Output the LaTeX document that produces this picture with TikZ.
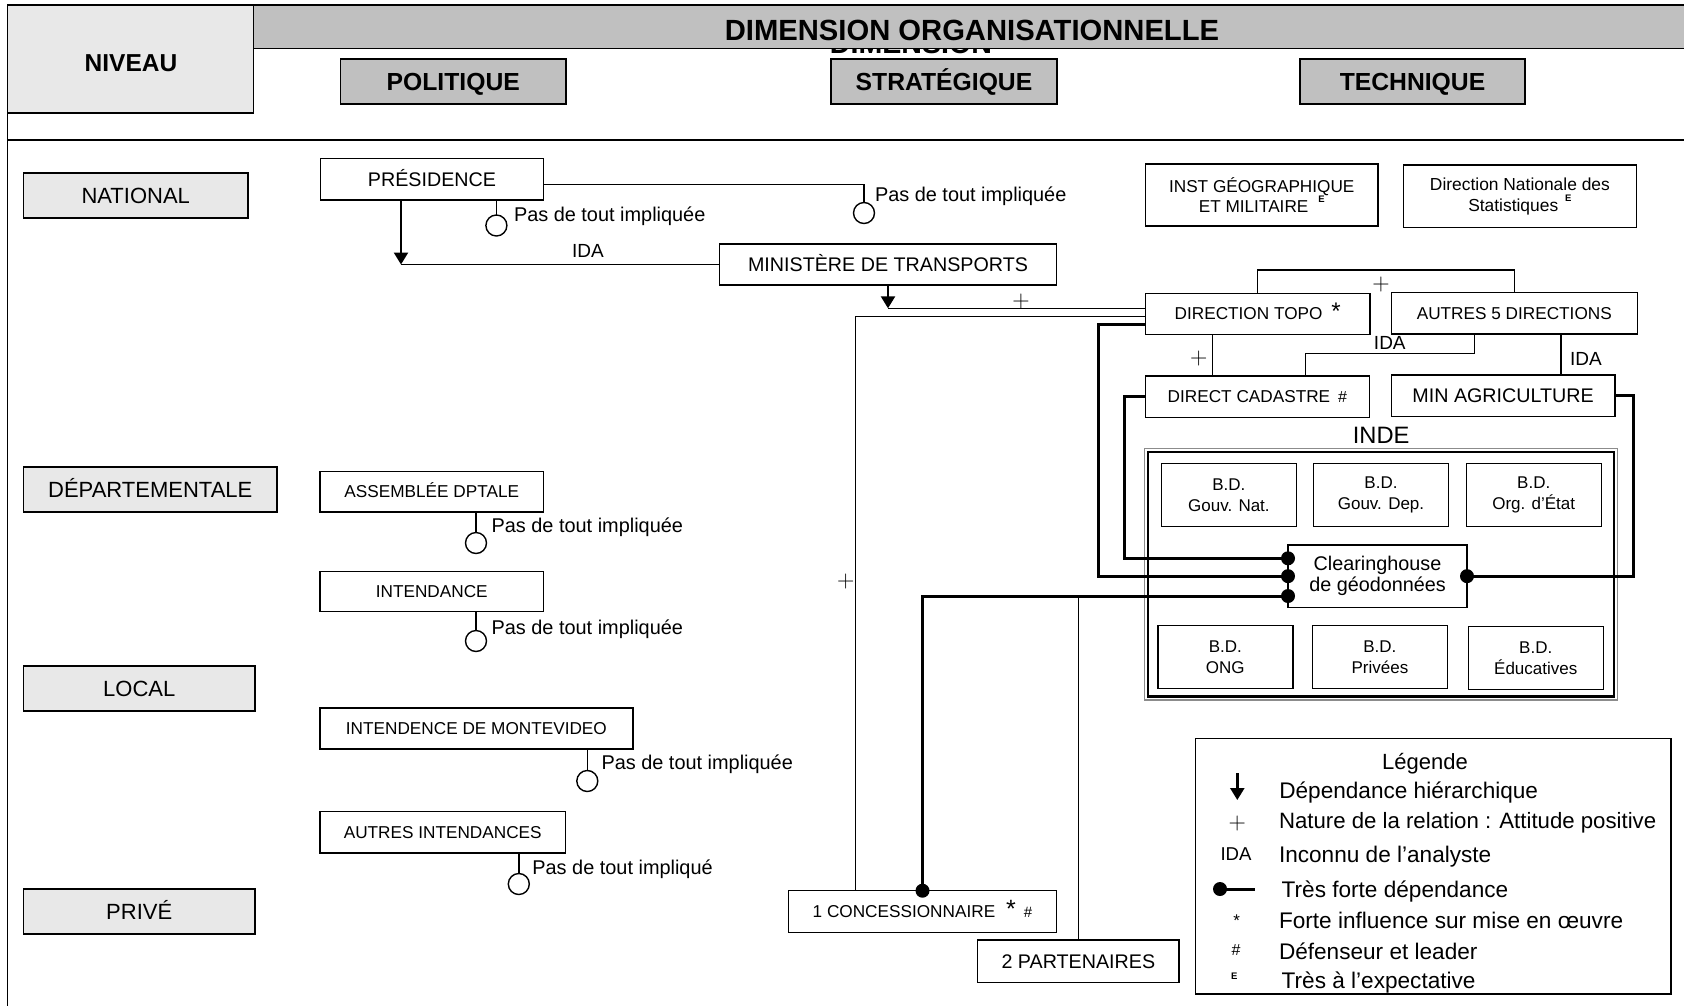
\documentclass[tikz,border=0pt]{standalone}
\usepackage{fontspec}
\setmainfont{Liberation Sans}
\newfontfamily\lmr{Latin Modern Roman}
\usetikzlibrary{arrows.meta,calc}
\definecolor{hgray}{HTML}{C0C0C0}
\definecolor{lgray}{HTML}{E8E8E8}
\definecolor{fgray}{HTML}{8C8C8C}
\newcommand\fsz[2]{\fontsize{#1}{#2}\selectfont}
\newcommand\expE{\raisebox{10pt}{\bfseries\fsz{9.5}{10}E}}

\begin{document}
\begin{tikzpicture}[x=1pt,y=-1pt,
  every node/.style={inner sep=0pt, outer sep=0pt},
  rule/.style={line width=1.6pt},
  hdbox/.style={draw, line width=1.6pt, fill=hgray, font={\bfseries\fsz{24.7}{28}}, text height=17.7pt, text depth=0pt},
  lvbox/.style={draw, line width=1.6pt, fill=lgray, font={\fsz{22}{26}}, text height=15.8pt, text depth=0pt},
  bx/.style={draw, line width=1.4pt, fill=white, align=center},
  t20/.style={font={\fsz{19.7}{23}}, text height=14.1pt, text depth=0pt},
  t17/.style={font={\fsz{17.2}{20.5}}, text height=12.3pt, text depth=0pt},
  pas/.style={anchor=west, font={\fsz{19.9}{23}}, text height=14.2pt, text depth=0pt},
  ida/.style={font={\fsz{19}{22}}, text height=13.6pt, text depth=0pt},
  leg/.style={anchor=west, font={\fsz{22.6}{26}}, text height=16.2pt, text depth=0pt},
  plus/.style={font={\lmr\fsz{24}{24}}},
  ring/.style={circle, draw, line width=1.4pt, minimum size=21pt},
  dot/.style={circle, fill=black, minimum size=14pt},
  link/.style={line width=1.4pt},
  strong/.style={line width=3pt},
  harrow/.style={line width=2.4pt, -{Triangle[length=12pt,width=14pt]}},
  bd/.style={bx, font={\fsz{17}{21}}, minimum width=135pt, minimum height=63pt}
]
\useasboundingbox (0,0) rectangle (1684,1005);

% ---------- outer frame and heading ----------
\draw[rule] (7.5,5) -- (7.5,1012);
\draw[rule] (7.5,140) -- (1690,140);

\node[anchor=base, font={\bfseries\fsz{28.6}{32}}] (ghost) at (911,53.5) {DIMENSION};
\node[draw, line width=1.6pt, fill=hgray, minimum width=1436.5pt, minimum height=43.5pt] (dim) at (971.75,26.75) {};
\node[font={\bfseries\fsz{29.2}{32}}, text height=20.9pt, text depth=0pt] (dimt) at (972,30) {DIMENSION ORGANISATIONNELLE};

\node[draw, line width=1.6pt, fill=lgray, minimum width=246pt, minimum height=107.7pt] (niv) at (130.5,58.85) {};
\node[font={\bfseries\fsz{24.5}{28}}, text height=17.5pt, text depth=0pt] (nivt) at (131,63) {NIVEAU};

\node[hdbox, minimum width=225.5pt, minimum height=45pt] (pol) at (453.25,81.5) {POLITIQUE};
\node[hdbox, minimum width=225.5pt, minimum height=45pt] (str) at (944,81.5) {STRATÉGIQUE};
\node[hdbox, minimum width=225.5pt, minimum height=45pt] (tec) at (1412.5,81.5) {TECHNIQUE};

% ---------- levels ----------
\node[lvbox, minimum width=224.5pt, minimum height=45pt] (nat) at (135.75,195.5) {NATIONAL};
\node[lvbox, minimum width=253.5pt, minimum height=45pt] (dep) at (150.25,489.5) {DÉPARTEMENTALE};
\node[lvbox, minimum width=231.5pt, minimum height=45pt] (loc) at (139.25,688.5) {LOCAL};
\node[lvbox, minimum width=231.5pt, minimum height=45pt] (pri) at (139.25,911.5) {PRIVÉ};

% ---------- political actors ----------
\node[bx, t20, minimum width=223pt, minimum height=41.7pt] (pres) at (432,179.2) {PRÉSIDENCE};
\node[bx, t20, minimum width=337pt, minimum height=41pt] (mint) at (888,264.5) {MINISTÈRE DE TRANSPORTS};
\node[bx, t17, minimum width=223.5pt, minimum height=40.5pt] (asm) at (431.75,491.75) {ASSEMBLÉE DPTALE};
\node[bx, t17, minimum width=223.5pt, minimum height=40.5pt] (intd) at (431.75,591.5) {INTENDANCE};
\node[bx, t17, minimum width=312.8pt, minimum height=41.2pt] (mvd) at (476.4,728.4) {INTENDENCE DE MONTEVIDEO};
\node[bx, t17, minimum width=245.5pt, minimum height=41.5pt] (aint) at (442.75,832.25) {AUTRES INTENDANCES};

% ---------- technical actors ----------
\node[bx, font={\fsz{17.2}{20.5}}, minimum width=232.5pt, minimum height=62pt] (igm) at (1261.75,195) {INST GÉOGRAPHIQUE\\ET MILITAIRE\hspace{10pt}\expE};
\node[bx, font={\fsz{17.4}{21}}, minimum width=232.8pt, minimum height=62.3pt] (dns) at (1519.9,196.2) {Direction Nationale des\\Statistiques\hspace{7pt}\expE};
\node[bx, t17, minimum width=224.5pt, minimum height=41pt] (dtopo) at (1257.75,313.8) {DIRECTION TOPO\hspace{9pt}{\fsz{24}{24}*}};
\node[bx, t17, minimum width=246.2pt, minimum height=41.3pt] (aut5) at (1514.3,313.35) {AUTRES 5 DIRECTIONS};
\node[bx, t17, minimum width=223.8pt, minimum height=41.3pt] (dcad) at (1257.4,396.65) {DIRECT CADASTRE\hspace{8pt}{\fsz{16}{16}\#}};
\node[bx, t20, minimum width=223.8pt, minimum height=41.7pt] (magri) at (1503.1,395.85) {MIN AGRICULTURE};

% ---------- INDE frame and its databases ----------
\node[draw=fgray, line width=1.3pt, minimum width=473pt, minimum height=251.7pt] (inde) at (1381.2,574.15) {};
\draw[line width=2.4pt] ($(inde.north west)+(3.5,3.5)$) rectangle ($(inde.south east)+(-3.5,-3.5)$);
\node[font={\fsz{23.7}{26}}, text height=17pt, text depth=0pt] (indet) at (1381.2,435) {INDE};

\node[bd] (bd1) at (1228.9,495) {B.D.\\Gouv. Nat.};
\node[bd] (bd2) at (1381,495) {B.D.\\Gouv. Dep.};
\node[bd] (bd3) at (1533.7,495) {B.D.\\Org. d’État};
\node[bd] (bd4) at (1225.3,657) {B.D.\\ONG};
\node[bd] (bd5) at (1379.9,657) {B.D.\\Privées};
\node[bd] (bd6) at (1535.75,658) {B.D.\\Éducatives};

% ---------- private actors ----------
\node[bx, t17, minimum width=268.4pt, minimum height=41.6pt] (conc) at (922.5,911.5) {1 CONCESSIONNAIRE\hspace{11pt}{\fsz{25}{25}*}\hspace{8pt}{\fsz{15}{15}\#}};
\node[bx, t20, minimum width=201.3pt, minimum height=42.3pt] (part) at (1078.35,961.15) {2 PARTENAIRES};

% ---------- hierarchical links ----------
\coordinate (pa) at ($(pres.south)+(-31,0)$);
\draw[harrow] (pa) -- (pa |- mint.west);
\draw[link] (mint.west) -- (pa |- mint.west);
\node[ida] (ida1) at (588,251) {IDA};

\coordinate (ta) at ([yshift=5.5pt]dtopo.west);
\draw[harrow] (mint.south) -- (mint.south |- ta);
\draw[link] (ta) -- (mint.south |- ta);
\node[plus] (p1) at (1021,301.7) {+};

\coordinate (tb) at ([yshift=-2.9pt]dtopo.west);
\coordinate (cb) at ($(conc.north west)+(67.4,0)$);
\draw[link] (tb) -| (cb);
\node[plus] (p2) at (845.7,581) {+};

% ---------- technical links ----------
\draw[link] (dtopo.north) -- ++(0,-23.3) -| (aut5.north);
\node[plus] (p3) at (1381,284.3) {+};
\draw[link] ([xshift=-45pt]dtopo.south) -- ([xshift=-45pt]dtopo.south |- dcad.north);
\node[plus] (p4) at (1198.7,359) {+};
\draw[link] ([xshift=-40pt]aut5.south) -- ++(0,19.3) -| ([xshift=48.2pt]dcad.north);
\node[ida] (ida2) at (1389.8,342.7) {IDA};
\draw[link] ([xshift=46.7pt]aut5.south) -- ([xshift=46.7pt]aut5.south |- magri.north);
\node[ida] (ida3) at (1586,358.3) {IDA};

% ---------- very strong dependencies on the Clearinghouse ----------
\node[bx, font={\fsz{19.8}{21}}, minimum width=179pt, minimum height=62.3pt] (clr) at (1377.5,576.15) {Clearinghouse\\de géodonnées};
\coordinate (cwa) at ([yshift=17.85pt]clr.west);
\coordinate (cwc) at ([yshift=-19.85pt]clr.west);
\draw[strong] ([yshift=-10.2pt]dtopo.west) -- ++(-46.8,0) |- (clr.west);
\draw[strong] (dcad.west) -- ++(-21.3,0) |- (cwa);
\draw[strong] (cwc) -| (conc.north);
\draw[strong] (magri.east) -- ++(18.3,0) |- (clr.east);
\draw[link] (part.north) -- (part.north |- cwc);
\node[dot] (d1) at (cwa) {};
\node[dot] (d2) at (clr.west) {};
\node[dot] (d3) at (cwc) {};
\node[dot] (d4) at (clr.east) {};
\node[dot] (d5) at (conc.north) {};

% ---------- "not involved" markers ----------
\node[ring] (r1) at (496.4,225.5) {};
\draw[link] (pres.south -| r1) -- (r1.north);
\node[pas] (n1) at (514,214) {Pas de tout impliquée};
\node[ring] (r2) at (864,213) {};
\draw[link] ([yshift=-5pt]pres.east) -| (r2.north);
\node[pas] (n2) at (875,194) {Pas de tout impliquée};
\node[ring] (r3) at (476,543) {};
\draw[link] (asm.south -| r3) -- (r3.north);
\node[pas] (n3) at (491.6,525) {Pas de tout impliquée};
\node[ring] (r4) at (476,641) {};
\draw[link] (intd.south -| r4) -- (r4.north);
\node[pas] (n4) at (491.6,627) {Pas de tout impliquée};
\node[ring] (r5) at (587.3,781) {};
\draw[link] (mvd.south -| r5) -- (r5.north);
\node[pas] (n5) at (601.5,762) {Pas de tout impliquée};
\node[ring] (r6) at (518.8,884) {};
\draw[link] (aint.south -| r6) -- (r6.north);
\node[pas] (n6) at (532.4,867) {Pas de tout impliqué};

% ---------- legend ----------
\node[draw, line width=1.4pt, minimum width=475.3pt, minimum height=255.7pt] (leg) at (1433.35,866.15) {};
\node[font={\fsz{22}{26}}, text height=15.8pt, text depth=0pt] (legt) at (1425,761.7) {Légende};
\coordinate (la1) at (1237.3,773);
\coordinate (la2) at (1237.3,800);
\draw[harrow] (la1) -- (la2);
\node[leg] (l1) at (1279.3,790) {Dépendance hiérarchique};
\node[plus] (lp) at (1237.3,823.3) {+};
\node[leg, font={\fsz{22.2}{26}}] (l2) at (1279,820.7) {Nature de la relation : Attitude positive};
\node[ida, font={\fsz{18.6}{22}}] (li) at (1236,854) {IDA};
\node[leg] (l3) at (1279,854.3) {Inconnu de l’analyste};
\node[dot] (ld) at (1220,889) {};
\coordinate (le) at (1255,889);
\draw[strong] (ld.center) -- (le);
\node[leg] (l4) at (1281.7,889) {Très forte dépendance};
\node[font={\fsz{17}{17}}] (ls) at (1236.7,921) {*};
\node[leg] (l5) at (1279,920) {Forte influence sur mise en œuvre};
\node[font={\fsz{16}{16}}] (lh) at (1236,950) {\#};
\node[leg] (l6) at (1279,951) {Défenseur et leader};
\node[font={\bfseries\fsz{9.5}{10}}] (lE) at (1234.3,976) {E};
\node[leg] (l7) at (1281.7,980) {Très à l’expectative};
\end{tikzpicture}
\end{document}
